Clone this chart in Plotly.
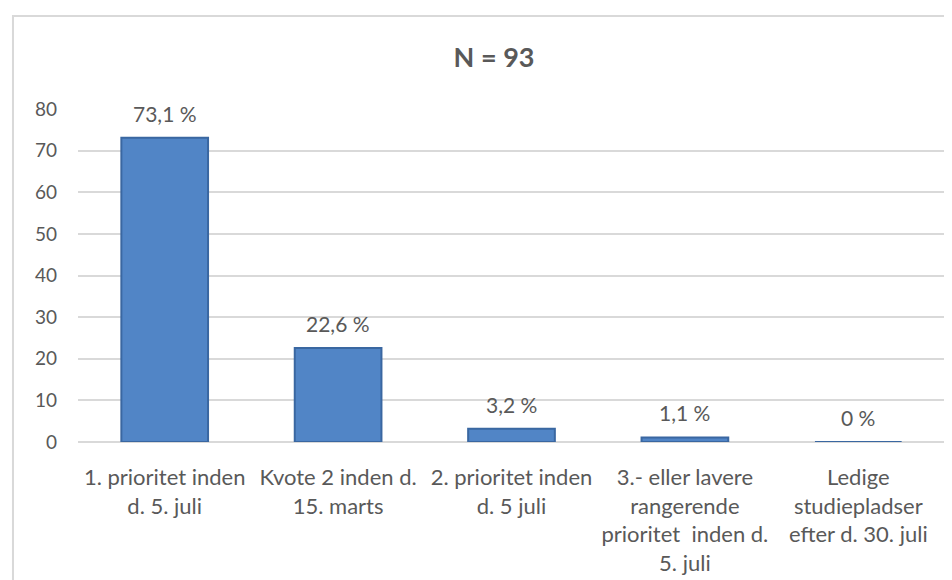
import plotly.graph_objects as go

categories = [
    "1. prioritet inden<br>d. 5. juli",
    "Kvote 2 inden d.<br>15. marts",
    "2. prioritet inden<br>d. 5 juli",
    "3.- eller lavere<br>rangerende<br>prioritet  inden d.<br>5. juli",
    "Ledige<br>studiepladser<br>efter d. 30. juli",
]
values = [73.1, 22.6, 3.2, 1.1, 0]
value_labels = ["73,1 %", "22,6 %", "3,2 %", "1,1 %", "0 %"]
y_ticks = [0, 10, 20, 30, 40, 50, 60, 70, 80]
title_text = "N = 93"

FONT = "Lato, Calibri, Carlito, Open Sans, sans-serif"
TXT = "#595959"

fig = go.Figure()
fig.add_trace(go.Bar(
    x=categories, y=values,
    marker=dict(color="#5185c6", line=dict(color="#3a67a1", width=2)),
    width=0.5,
    hoverinfo="skip",
))

for c, v, t in zip(categories, values, value_labels):
    fig.add_annotation(x=c, y=v, text=t, showarrow=False, yanchor="bottom",
                       yshift=10, font=dict(family=FONT, size=21, color=TXT))

fig.add_shape(type="rect", xref="paper", yref="paper",
              x0=-0.075, y0=-0.5, x1=1.05, y1=1.279,
              line=dict(color="#d9d9d9", width=2), fillcolor="rgba(0,0,0,0)", layer="below")

fig.update_layout(
    width=952, height=580,
    margin=dict(l=70, r=15, t=101, b=146, autoexpand=False),
    paper_bgcolor="white", plot_bgcolor="white",
    showlegend=False,
    title=dict(text="<b>" + title_text + "</b>", x=486/952, xanchor="center",
               y=1 - 50/580, yanchor="middle", yref="container",
               font=dict(family=FONT, size=27, color=TXT)),
    font=dict(family=FONT, color=TXT),
    xaxis=dict(showgrid=False, showline=False, ticks="", tickangle=0,
               automargin=False,
               tickfont=dict(family=FONT, size=22, color=TXT),
               ticklabelstandoff=20),
    yaxis=dict(range=[0, 80], tickvals=y_ticks, showgrid=True,
               automargin=False,
               gridcolor="#d9d9d9", gridwidth=1.5, zeroline=True,
               zerolinecolor="#d9d9d9", zerolinewidth=1.5, showline=False,
               ticks="", ticklabelstandoff=20,
               tickfont=dict(family=FONT, size=19, color=TXT)),
)

fig.write_html("out.html")
